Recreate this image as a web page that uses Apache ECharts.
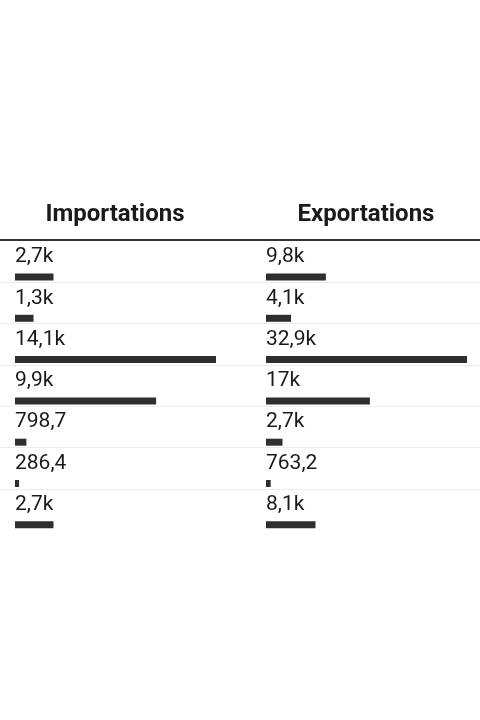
<!DOCTYPE html>
<html>
<head>
<meta charset="utf-8">
<script src="https://cdn.jsdelivr.net/npm/echarts@6/dist/echarts.min.js"></script>
<style>
html,body{margin:0;padding:0;background:#fff;}
#chart{width:480px;height:720px;}
</style>
</head>
<body>
<div id="chart"></div>
<script>
var columns = ['Importations', 'Exportations'];
var rows = ['r1', 'r2', 'r3', 'r4', 'r5', 'r6', 'r7'];
var importations = [2700, 1300, 14100, 9900, 798.7, 286.4, 2700];
var exportations = [9800, 4100, 32900, 17000, 2700, 763.2, 8100];

function fmt(v) {
  if (v >= 1000) {
    var s = (v / 1000).toFixed(1).replace('.', ',').replace(/,0$/, '');
    return s + 'k';
  }
  return v.toFixed(1).replace('.', ',');
}

var ROW_TOP = 241, ROW_H = 41.3, N = rows.length;
var BAR_CENTER = 36;
var barTop = ROW_TOP + BAR_CENTER - ROW_H / 2;
var FONT = 'Roboto, "Noto Sans", sans-serif';

var chart = echarts.init(document.getElementById('chart'), null, {renderer: 'canvas'});

function barSeries(idx, data) {
  return {
    type: 'bar',
    xAxisIndex: idx,
    yAxisIndex: idx,
    data: data,
    barWidth: 7,
    silent: true,
    itemStyle: {color: '#2e2e2e'},
    label: {
      show: true,
      position: [0, -6],
      verticalAlign: 'bottom',
      align: 'left',
      color: '#1a1a1a',
      fontSize: 21,
      fontFamily: FONT,
      formatter: function (p) { return fmt(p.value); }
    }
  };
}

var option = {
  animation: false,
  backgroundColor: '#ffffff',
  title: [
    {text: columns[0], left: 115, top: 203, textAlign: 'center', padding: 0,
     textStyle: {fontSize: 24, fontWeight: 'bold', fontFamily: FONT, color: '#1a1a1a'}},
    {text: columns[1], left: 366, top: 203, textAlign: 'center', padding: 0,
     textStyle: {fontSize: 24, fontWeight: 'bold', fontFamily: FONT, color: '#1a1a1a'}}
  ],
  grid: [
    {left: 15, width: 201, top: barTop, height: ROW_H * N},
    {left: 266, width: 201, top: barTop, height: ROW_H * N},
    {left: 0, right: 0, top: ROW_TOP, height: ROW_H * N}
  ],
  xAxis: [
    {gridIndex: 0, type: 'value', min: 0, max: 'dataMax', show: false},
    {gridIndex: 1, type: 'value', min: 0, max: 'dataMax', show: false},
    {gridIndex: 2, type: 'value', min: 0, max: 1, position: 'top', offset: 1,
     axisLine: {show: true, lineStyle: {color: '#333333', width: 2}},
     axisTick: {show: false}, axisLabel: {show: false}, splitLine: {show: false}}
  ],
  yAxis: [
    {gridIndex: 0, type: 'category', data: rows, inverse: true, show: false},
    {gridIndex: 1, type: 'category', data: rows, inverse: true, show: false},
    {gridIndex: 2, type: 'category', data: rows, inverse: true,
     axisLine: {show: false}, axisTick: {show: false}, axisLabel: {show: false},
     splitLine: {show: true, showMinLine: false, showMaxLine: false,
                 lineStyle: {color: '#ececec', width: 1}}}
  ],
  series: [
    barSeries(0, importations),
    barSeries(1, exportations),
    {type: 'bar', xAxisIndex: 2, yAxisIndex: 2, data: [], silent: true}
  ]
};
chart.setOption(option);
</script>
</body>
</html>
